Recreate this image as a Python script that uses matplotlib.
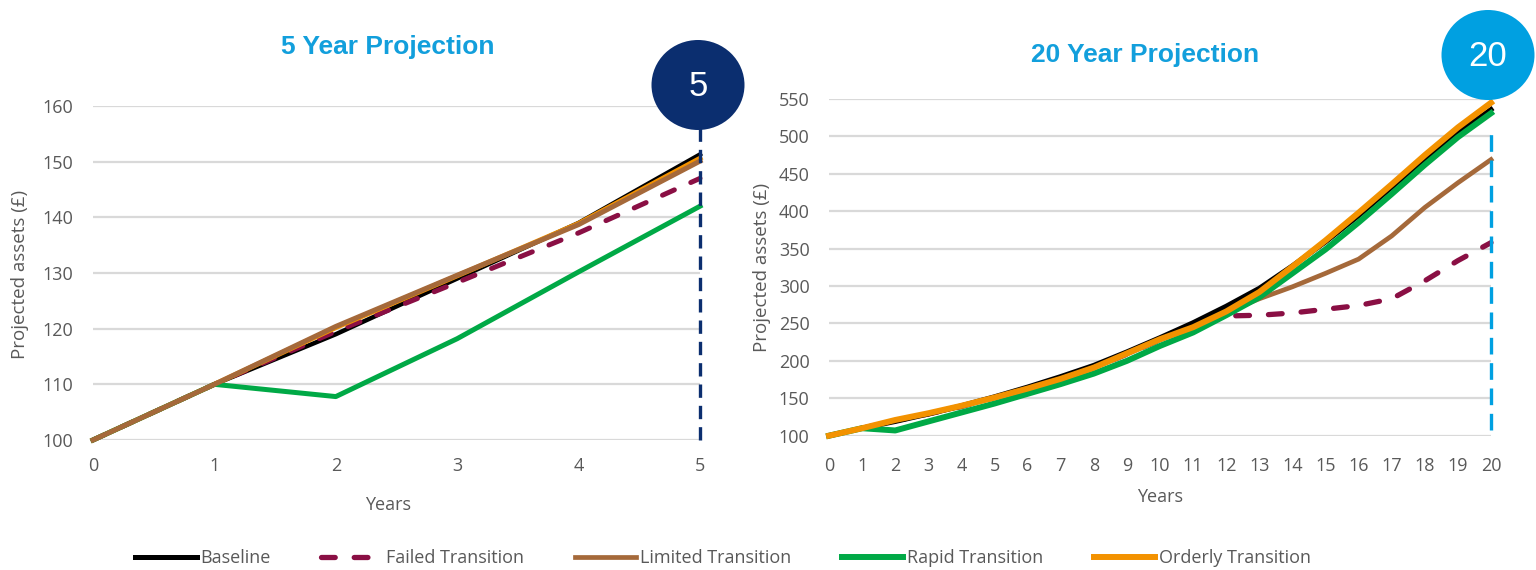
import matplotlib.pyplot as plt
from matplotlib.patches import Ellipse

plt.rcParams['font.family'] = ['Open Sans', 'DejaVu Sans']

series_names = ['Baseline', 'Failed Transition', 'Limited Transition',
                'Rapid Transition', 'Orderly Transition']
colours = ['#000000', '#8a0f44', '#a5693a', '#00a946', '#f39200']

# 5 year projection
years_5 = [0, 1, 2, 3, 4, 5]
baseline_5 = [100, 110, 119.0, 129.0, 139.0, 151.3]
failed_5 = [100, 110, 119.5, 128.3, 137.2, 147.0]
limited_5 = [100, 110, 120.4, 129.6, 138.7, 150.1]
rapid_5 = [100, 110, 107.8, 118.2, 130.2, 142.0]
orderly_5 = [100, 110, 120.2, 129.5, 138.9, 150.6]

# 20 year projection
years_20 = list(range(21))
baseline_20 = [100, 110, 119, 129, 140, 152, 165, 179, 194, 212, 231, 251,
               273, 297, 327, 359, 394, 432, 470, 505, 536]
failed_20 = [100, 110, 120, 129, 139, 151, 163, 176, 191, 209, 228, 246,
             260, 261, 264, 269, 274, 283, 307, 334, 358]
limited_20 = [100, 110, 120, 129, 139, 151, 163, 176, 191, 209, 228, 245,
              265, 283, 299, 317, 336, 367, 405, 438, 469]
rapid_20 = [100, 110, 107, 119, 131, 143, 156, 169, 183, 200, 220, 238,
            261, 285, 317, 349, 385, 423, 462, 499, 531]
orderly_20 = [100, 110, 121, 130, 140, 151, 163, 176, 191, 210, 229, 245,
              266, 292, 326, 361, 398, 436, 475, 512, 545]

yticks_5 = list(range(100, 161, 10))
yticks_20 = list(range(100, 551, 50))

grey = '#595959'
grid = '#d9d9d9'
title_blue = '#129fdc'
navy = '#0b2e6f'
light_blue = '#00a0e1'

fig = plt.figure(figsize=(15.36, 5.70), dpi=100)
ax1 = fig.add_axes([93/1536, 1-440/570, 607/1536, 334/570])
ax2 = fig.add_axes([829/1536, 1-435.7/570, 662/1536, 336.7/570])

failed_style = dict(dashes=(2.6, 3.6), dash_capstyle='round')

# left chart: brown sits on top
ax1.plot(years_5, baseline_5, color=colours[0], lw=3.2, zorder=3, clip_on=False)
ax1.plot(years_5, failed_5, color=colours[1], lw=3.6, zorder=3, clip_on=False, **failed_style)
ax1.plot(years_5, orderly_5, color=colours[4], lw=3.6, zorder=4, clip_on=False)
ax1.plot(years_5, rapid_5, color=colours[3], lw=3.6, zorder=4, clip_on=False)
ax1.plot(years_5, limited_5, color=colours[2], lw=3.6, zorder=5, clip_on=False)

# right chart: orange sits on top
lines = {}
lines[1] = ax2.plot(years_20, failed_20, color=colours[1], lw=3.8, zorder=2, clip_on=False, **failed_style)[0]
lines[2] = ax2.plot(years_20, limited_20, color=colours[2], lw=3.4, zorder=3, clip_on=False)[0]
lines[0] = ax2.plot(years_20, baseline_20, color=colours[0], lw=3.6, zorder=4, clip_on=False)[0]
lines[3] = ax2.plot(years_20, rapid_20, color=colours[3], lw=4.3, zorder=5, clip_on=False)[0]
lines[4] = ax2.plot(years_20, orderly_20, color=colours[4], lw=4.3, zorder=6, clip_on=False)[0]

# vertical markers at the end of each horizon
ax1.plot([5, 5], [100, 156], color=navy, lw=2.4, dashes=(4, 2.4), zorder=6, clip_on=False)
ax2.plot([20, 20], [107, 505], color=light_blue, lw=2.4, dashes=(5, 2.6), zorder=7, clip_on=False)

for ax, xmax, yt in [(ax1, 5, yticks_5), (ax2, 20, yticks_20)]:
    ax.set_xlim(0, xmax)
    ax.set_ylim(yt[0], yt[-1])
    ax.set_xticks(range(0, xmax + 1))
    ax.set_yticks(yt)
    for s in ax.spines.values():
        s.set_visible(False)
    ax.grid(axis='y', color=grid, lw=1.6)
    ax.set_axisbelow(True)
    ax.tick_params(length=0, labelsize=13, labelcolor=grey)
    ax.tick_params(axis='y', pad=14)
ax1.tick_params(axis='x', pad=12)
ax2.tick_params(axis='x', pad=15)

fig.text(20/1536, 1-274/570, 'Projected assets (£)', rotation=90, ha='center', va='center',
         fontsize=13.5, color=grey)
fig.text(762/1536, 1-267/570, 'Projected assets (£)', rotation=90, ha='center', va='center',
         fontsize=13.5, color=grey)
fig.text(388/1536, 1-505/570, 'Years', ha='center', va='center', fontsize=13, color=grey)
fig.text(1160/1536, 1-497/570, 'Years', ha='center', va='center', fontsize=13, color=grey)

fig.text(388/1536, 1-47/570, '5 Year Projection', ha='center', va='center', fontsize=19,
         fontweight='bold', color=title_blue, family='Liberation Sans')
fig.text(1145/1536, 1-55/570, '20 Year Projection', ha='center', va='center', fontsize=19,
         fontweight='bold', color=title_blue, family='Liberation Sans')

# numbered badges
for cx, cy, col, label in [(698, 85, navy, '5'), (1488, 55, light_blue, '20')]:
    fig.add_artist(Ellipse((cx/1536, 1-cy/570), 93/1536, 90/570, transform=fig.transFigure,
                           facecolor=col, edgecolor='none', zorder=10))
    fig.text(cx/1536, 1-(cy+1)/570, label, ha='center', va='center', fontsize=25,
             color='white', family='Liberation Sans', zorder=11)

order = [0, 1, 2, 3, 4]
fig.legend([lines[i] for i in order], [series_names[i] for i in order],
           loc='center', bbox_to_anchor=(723/1536, 1-558/570), ncol=5, frameon=False,
           fontsize=13, labelcolor=grey, handlelength=3.4, handletextpad=0.2,
           columnspacing=2.8)

fig.savefig('out.png', dpi=100)
